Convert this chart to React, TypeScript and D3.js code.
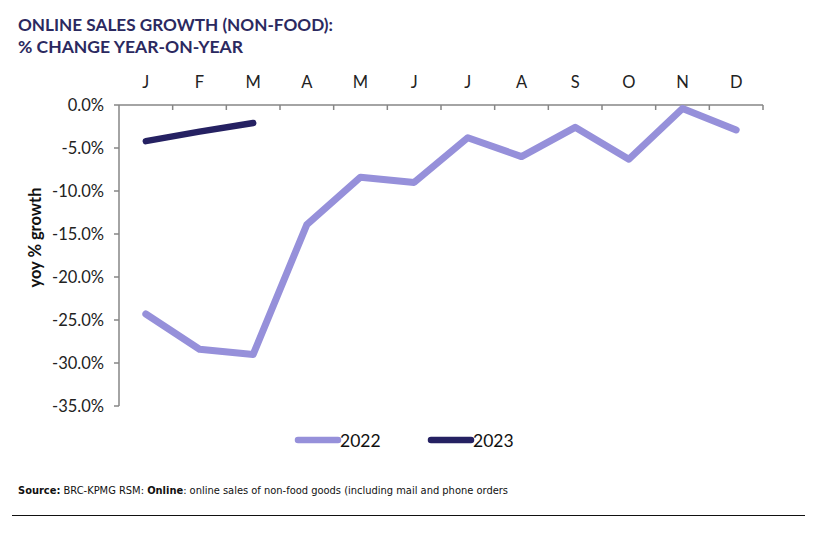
import React from "react";
import * as d3 from "d3";

const months = ["J", "F", "M", "A", "M", "J", "J", "A", "S", "O", "N", "D"];
const series2022 = [-24.3, -28.4, -29.0, -13.9, -8.4, -9.0, -3.8, -6.0, -2.6, -6.3, -0.4, -2.9];
const series2023 = [-4.2, -3.1, -2.1];
const yTicks = [0, -5, -10, -15, -20, -25, -30, -35];
const seriesNames = ["2022", "2023"];
const colors = ["#9690da", "#252162"];

const W = 817;
const H = 550;
const left = 119;
const right = 763;
const top = 105;
const bottom = 406;

export default function App() {
  const x = d3.scaleBand<number>().domain(d3.range(12)).range([left, right]);
  const y = d3.scaleLinear().domain([-35, 0]).range([bottom, top]);
  const cx = (i: number) => (x(i) as number) + x.bandwidth() / 2;
  const line = d3
    .line<number>()
    .x((_, i) => cx(i))
    .y((d) => y(d));
  const axisColor = "#868686";
  const font = "Lato, 'Open Sans', sans-serif";
  const boundaries = d3.range(13).map((i) => left + i * x.bandwidth());
  const fmt = (t: number) => (t < 0 ? "-" : "") + Math.abs(t).toFixed(1) + "%";

  return (
    <svg
      width={W}
      height={H}
      style={{ position: "absolute", left: 0, top: 0, background: "#fff" }}
      fontFamily={font}
    >
      <text x={18} y={31} fontSize={17} fontWeight={700} fill="#2b2960" textLength={315} lengthAdjust="spacingAndGlyphs">
        ONLINE SALES GROWTH (NON-FOOD):
      </text>
      <text x={18} y={53} fontSize={17} fontWeight={700} fill="#2b2960" textLength={225} lengthAdjust="spacingAndGlyphs">
        % CHANGE YEAR-ON-YEAR
      </text>

      {months.map((m, i) => (
        <text key={i} x={cx(i)} y={88} fontSize={16.5} textAnchor="middle" fill="#222">
          {m}
        </text>
      ))}

      {/* top axis */}
      <line x1={left} x2={right} y1={top} y2={top} stroke={axisColor} strokeWidth={1.5} />
      {boundaries.slice(1).map((bx, i) => (
        <line key={i} x1={bx} x2={bx} y1={top} y2={top + 5} stroke={axisColor} strokeWidth={1.5} />
      ))}
      {/* left axis */}
      <line x1={left} x2={left} y1={top} y2={bottom} stroke={axisColor} strokeWidth={1.5} />
      {yTicks.map((t) => (
        <g key={t}>
          <line x1={left - 5} x2={left} y1={y(t)} y2={y(t)} stroke={axisColor} strokeWidth={1.5} />
          <text x={104} y={y(t) + 5.5} fontSize={16.5} textAnchor="end" fill="#222">
            {fmt(t)}
          </text>
        </g>
      ))}

      <text
        transform={`translate(41,${(top + bottom) / 2 - 18}) rotate(-90)`}
        fontSize={16.5}
        fontWeight={700}
        textAnchor="middle"
        fill="#111"
      >
        yoy % growth
      </text>

      <path d={line(series2022) || ""} fill="none" stroke={colors[0]} strokeWidth={7} strokeLinecap="round" strokeLinejoin="round" />
      <path d={line(series2023) || ""} fill="none" stroke={colors[1]} strokeWidth={6.5} strokeLinecap="round" strokeLinejoin="round" />

      {/* legend */}
      {seriesNames.map((n, i) => {
        const lx = 298 + i * 133;
        return (
          <g key={n}>
            <line x1={lx} x2={lx + 40} y1={440} y2={440} stroke={colors[i]} strokeWidth={6.5} strokeLinecap="round" />
            <text x={lx + 42} y={446.5} fontSize={17.5} fill="#111">
              {n}
            </text>
          </g>
        );
      })}

      <text x={18} y={494} fontSize={11} fill="#111" fontFamily="'Liberation Sans Narrow', 'DejaVu Sans Condensed', sans-serif">
        <tspan fontWeight={700}>Source:</tspan> BRC-KPMG RSM: <tspan fontWeight={700}>Online</tspan>: online sales of non-food goods (including mail and phone orders
      </text>
      <line x1={12} x2={805} y1={515.5} y2={515.5} stroke="#111" strokeWidth={1} />
    </svg>
  );
}
